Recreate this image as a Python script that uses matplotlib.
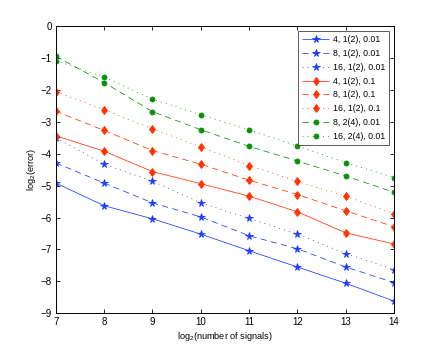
import numpy as np
import matplotlib
matplotlib.use("Agg")
import matplotlib.pyplot as plt

plt.rcParams['font.family'] = ['Liberation Sans', 'DejaVu Sans']
plt.rcParams['mathtext.fontset'] = 'custom'
plt.rcParams['mathtext.rm'] = 'Liberation Sans'
plt.rcParams['lines.scale_dashes'] = False

# log2(number of signals)
x = [7, 8, 9, 10, 11, 12, 13, 14]

# log2(error) per configuration
blue_4 = [-4.92, -5.63, -6.04, -6.52, -7.04, -7.55, -8.06, -8.62]
blue_8 = [-4.29, -4.92, -5.54, -5.98, -6.57, -6.98, -7.55, -8.04]
blue_16 = [-3.50, -4.33, -4.86, -5.54, -6.03, -6.52, -7.13, -7.63]
red_4 = [-3.44, -3.92, -4.56, -4.94, -5.33, -5.82, -6.48, -6.83]
red_8 = [-2.67, -3.27, -3.90, -4.33, -4.83, -5.28, -5.79, -6.29]
red_16 = [-2.06, -2.62, -3.22, -3.79, -4.37, -4.87, -5.33, -5.88]
green_8 = [-0.95, -1.77, -2.68, -3.25, -3.77, -4.23, -4.70, -5.21]
green_16 = [-1.08, -1.60, -2.29, -2.78, -3.25, -3.76, -4.28, -4.75]

labels = ['4, 1(2), 0.01', '8, 1(2), 0.01', '16, 1(2), 0.01',
          '4, 1(2), 0.1', '8, 1(2), 0.1', '16, 1(2), 0.1',
          '8, 2(4), 0.01', '16, 2(4), 0.01']

blue = '#1a3cff'
red = '#ff3300'
green = '#0a900a'

solid = (0, ())
dashed = (0, (4.5, 3.0))
dotted = (0, (0.7, 3.0))

fig = plt.figure(figsize=(4.36, 3.52), dpi=100)
ax = fig.add_axes([0.128, 0.110, 0.776, 0.816])

series = [
    (blue_4, blue, solid, '*', 5.3),
    (blue_8, blue, dashed, '*', 5.3),
    (blue_16, blue, dotted, '*', 5.3),
    (red_4, red, solid, 'd', 4.3),
    (red_8, red, dashed, 'd', 4.3),
    (red_16, red, dotted, 'd', 4.3),
    (green_8, green, dashed, 'o', 3.6),
    (green_16, green, dotted, 'o', 3.6),
]
for (y, c, ls, m, ms), lab in zip(series, labels):
    ax.plot(x, y, color=c, linestyle=ls, linewidth=0.55, marker=m,
            markersize=ms, markeredgewidth=0.6, label=lab)

ax.set_xlim(7, 14)
ax.set_ylim(-9, 0)
ax.set_xticks(range(7, 15))
ax.set_yticks(range(-9, 1))
ax.tick_params(direction='in', top=True, right=True, labelsize=7,
               length=3, width=0.6, pad=3)
for s in ax.spines.values():
    s.set_linewidth(0.7)
ax.set_xlabel(r'log$_2$(number of signals)', fontsize=6.6, labelpad=2)
ax.set_ylabel(r'log$_2$(error)', fontsize=6.6, labelpad=2)

leg = ax.legend(loc='upper right', fontsize=6.3, frameon=True, fancybox=False,
                handlelength=3.1, handletextpad=0.4, borderpad=0.45,
                labelspacing=0.55, borderaxespad=0.6)
leg.get_frame().set_edgecolor('#333333')
leg.get_frame().set_linewidth(0.7)

fig.savefig('out.png', dpi=100)
